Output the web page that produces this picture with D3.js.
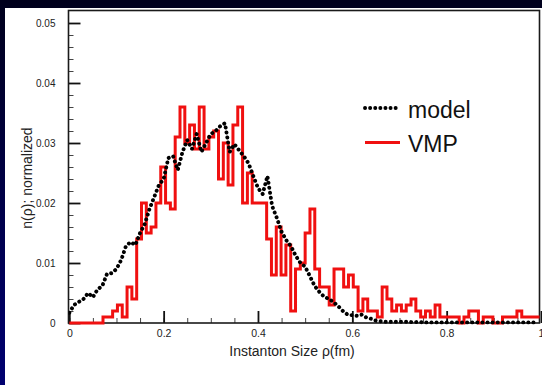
<!DOCTYPE html>
<html>
<head>
<meta charset="utf-8">
<script src="https://cdn.jsdelivr.net/npm/d3@7"></script>
<style>
  html, body { margin: 0; padding: 0; background: #000040; }
  svg { display: block; font-family: "Liberation Sans", Arial, Helvetica, sans-serif; }
</style>
</head>
<body>
<svg id="chart" width="542" height="385"></svg>
<script>
// model curve, sampled every 0.01 fm from 0 to 0.99
const modelStep = 0.01;
const modelValues = [
  0.0017, 0.0030, 0.0035, 0.0040, 0.0050, 0.0043, 0.0056, 0.0062, 0.0082, 0.0083,
  0.0090, 0.0105, 0.0128, 0.0135, 0.0130, 0.0150, 0.0165, 0.0190, 0.0210, 0.0230,
  0.0240, 0.0275, 0.0278, 0.0255, 0.0285, 0.0305, 0.0290, 0.0315, 0.0285, 0.0300,
  0.0315, 0.0320, 0.0328, 0.0333, 0.0285, 0.0298, 0.0288, 0.0278, 0.0266, 0.0245,
  0.0225, 0.0215, 0.0245, 0.0195, 0.0175, 0.0152, 0.0138, 0.0128, 0.0112, 0.0100,
  0.0094, 0.0078, 0.0062, 0.0052, 0.0044, 0.0040, 0.0035, 0.0028, 0.0020, 0.0014,
  0.0013, 0.0012, 0.0014, 0.0009, 0.0007, 0.0004, 0.0003, 0.0002, 0.0002, 0.0002,
  0.0002, 0.0002, 0.0002, 0.0001, 0.0002, 0.0001, 0.0001, 0.0001, 0.0001, 0.0001,
  0.0001, 0.0001, 0.0001, 0.0001, 0.0001, 0.0001, 0.0001, 0.0001, 0.0001, 0.0001,
  0.0001, 0.0001, 0.0001, 0.0001, 0.0001, 0.0001, 0.0001, 0.0001, 0.0001, 0.0001
];

// VMP histogram, 98 bins over 0..1 fm
const vmpValues = [
  0, 0, 0, 0, 0, 0, 0, 0.001, 0.001, 0.002,
  0.003, 0.001, 0.006, 0.004, 0.014, 0.020, 0.015, 0.016, 0.020, 0.026,
  0.020, 0.019, 0.031, 0.036, 0.030, 0.033, 0.029, 0.036, 0.029, 0.031,
  0.032, 0.024, 0.030, 0.023, 0.033, 0.036, 0.020, 0.025, 0.020, 0.020,
  0.020, 0.014, 0.008, 0.016, 0.008, 0.013, 0.002, 0.009, 0.010, 0.015,
  0.019, 0.009, 0.006, 0.006, 0.003, 0.009, 0.009, 0.006, 0.008, 0.006,
  0.002, 0.004, 0.002, 0.002, 0.001, 0.006, 0.004, 0.002, 0.003, 0.002,
  0.003, 0.004, 0.002, 0.001, 0.002, 0.001, 0.003, 0.001, 0.001, 0.001,
  0.001, 0, 0.001, 0.002, 0.002, 0, 0.001, 0.001, 0, 0,
  0.001, 0.001, 0.001, 0.002, 0.001, 0.001, 0.001, 0.001
];
const vmpBinWidth = 1 / vmpValues.length;

const xTicks = [0, 0.2, 0.4, 0.6, 0.8, 1];
const xTickLabels = ["0", "0.2", "0.4", "0.6", "0.8", "1"];
const yTicks = [0, 0.01, 0.02, 0.03, 0.04, 0.05];
const yTickLabels = ["0", "0.01", "0.02", "0.03", "0.04", "0.05"];

const seriesNames = ["model", "VMP"];

const svg = d3.select("#chart");

// slide background
const defs = svg.append("defs");
const grad = defs.append("linearGradient")
  .attr("id", "bg").attr("x1", 0).attr("y1", 0).attr("x2", 0).attr("y2", 1);
grad.append("stop").attr("offset", "0%").attr("stop-color", "#00001c");
grad.append("stop").attr("offset", "100%").attr("stop-color", "#000070");
svg.append("rect").attr("width", 542).attr("height", 385).attr("fill", "url(#bg)");
svg.append("rect").attr("x", 5).attr("y", 8).attr("width", 537).attr("height", 377).attr("fill", "#ffffff");

const plotLeft = 68.5, plotRight = 539.5, plotTop = 10.5, plotBottom = 323;

const x = d3.scaleLinear().domain([0, 1]).range([69.3, 541]);
const y = d3.scaleLinear().domain([0, 0.05]).range([plotBottom, 23]);

defs.append("clipPath").attr("id", "plot")
  .append("rect").attr("x", plotLeft).attr("y", plotTop)
  .attr("width", plotRight - plotLeft).attr("height", plotBottom - plotTop + 2);

// minor ticks
svg.append("g")
  .attr("transform", "translate(" + plotLeft + ",0)")
  .call(d3.axisLeft(y).tickValues(d3.range(0, 0.0501, 0.002)).tickSize(-5).tickFormat(""))
  .call(g => g.select(".domain").remove())
  .call(g => g.selectAll("line").attr("stroke", "#444").attr("stroke-width", 1));

svg.append("g")
  .attr("transform", "translate(0," + plotBottom + ")")
  .call(d3.axisBottom(x).tickValues(d3.range(0, 0.99, 0.05)).tickSize(-5).tickFormat(""))
  .call(g => g.select(".domain").remove())
  .call(g => g.selectAll("line").attr("stroke", "#444").attr("stroke-width", 1));

// major ticks and labels
svg.append("g")
  .attr("transform", "translate(" + plotLeft + ",0)")
  .call(d3.axisLeft(y).tickValues(yTicks).tickSize(-12).tickPadding(13)
    .tickFormat((d, i) => yTickLabels[i]))
  .call(g => g.select(".domain").remove())
  .call(g => g.selectAll("line").attr("stroke", "#111").attr("stroke-width", 1.8))
  .call(g => g.selectAll("text").attr("font-size", 10).attr("fill", "#222")
    .attr("font-family", "Liberation Sans, Arial, sans-serif"));

svg.append("g")
  .attr("transform", "translate(0," + plotBottom + ")")
  .call(d3.axisBottom(x).tickValues(xTicks).tickSize(-12).tickPadding(7)
    .tickFormat((d, i) => xTickLabels[i]))
  .call(g => g.select(".domain").remove())
  .call(g => g.selectAll("line").attr("stroke", "#111").attr("stroke-width", 1.8))
  .call(g => g.selectAll("text").attr("font-size", 10.5).attr("fill", "#222")
    .attr("font-family", "Liberation Sans, Arial, sans-serif"));

// frame
svg.append("rect")
  .attr("x", plotLeft).attr("y", plotTop)
  .attr("width", plotRight - plotLeft).attr("height", plotBottom - plotTop)
  .attr("fill", "none").attr("stroke", "#1a1a1a").attr("stroke-width", 1.6);

const plot = svg.append("g").attr("clip-path", "url(#plot)");

// VMP histogram as a step line
const vmpPts = vmpValues.map((v, i) => [i * vmpBinWidth, v]);
vmpPts.push([1, vmpValues[vmpValues.length - 1]]);
plot.append("path")
  .datum(vmpPts)
  .attr("fill", "none")
  .attr("stroke", "#f01010")
  .attr("stroke-width", 3)
  .attr("d", d3.line().x(d => x(d[0])).y(d => y(d[1])).curve(d3.curveStepAfter));

// model curve, dotted
plot.append("path")
  .datum(modelValues.map((v, i) => [i * modelStep, v]))
  .attr("fill", "none")
  .attr("stroke", "#000")
  .attr("stroke-width", 3.9)
  .attr("stroke-linecap", "round")
  .attr("stroke-dasharray", "0.1 5")
  .attr("d", d3.line().x(d => x(d[0])).y(d => y(d[1])));

// axis titles
svg.append("text")
  .attr("x", 292).attr("y", 356)
  .attr("text-anchor", "middle")
  .attr("font-size", 14).attr("fill", "#222")
  .text("Instanton Size ρ(fm)");

svg.append("text")
  .attr("transform", "translate(31.5,178) rotate(-90)")
  .attr("text-anchor", "middle")
  .attr("font-size", 14).attr("fill", "#222")
  .text("n(ρ); normalized");

// legend
const legend = svg.append("g");
legend.append("line")
  .attr("x1", 365).attr("x2", 400).attr("y1", 108).attr("y2", 108)
  .attr("stroke", "#000").attr("stroke-width", 3.9)
  .attr("stroke-linecap", "round").attr("stroke-dasharray", "0.1 5");
legend.append("line")
  .attr("x1", 365).attr("x2", 400).attr("y1", 142.5).attr("y2", 142.5)
  .attr("stroke", "#f01010").attr("stroke-width", 3);
legend.append("text").attr("x", 408).attr("y", 118).attr("font-size", 23).attr("fill", "#111").text(seriesNames[0]);
legend.append("text").attr("x", 408).attr("y", 151.5).attr("font-size", 23).attr("fill", "#111").text(seriesNames[1]);
</script>
</body>
</html>
